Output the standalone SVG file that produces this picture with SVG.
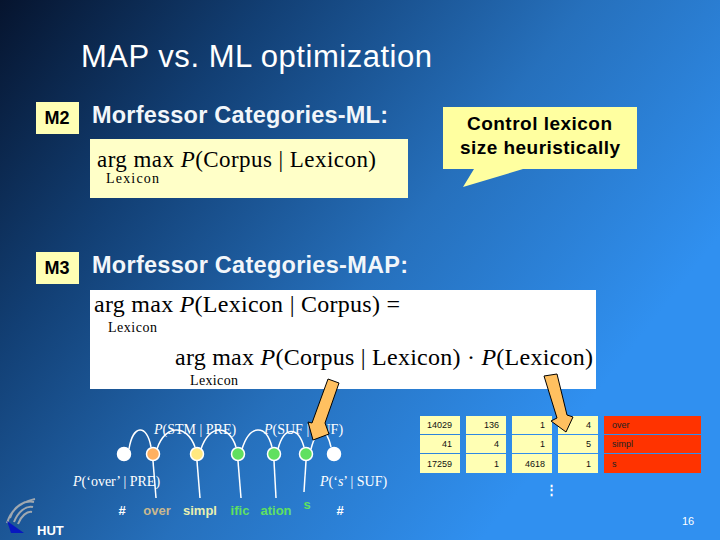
<svg xmlns="http://www.w3.org/2000/svg" width="720" height="540" viewBox="0 0 720 540">
<style>
.s{font-family:"Liberation Sans",Arial,sans-serif}
.f{font-family:"Liberation Serif","Times New Roman",serif}
.h{font-family:"Liberation Sans",Arial,sans-serif;font-weight:bold;font-size:23.5px;fill:#f2f6fa}
.tag{font-family:"Liberation Sans",Arial,sans-serif;font-weight:bold;font-size:18px;fill:#000;text-anchor:middle}
.cy{fill:#ffffb4}
.c{fill:#ffffb4}
.n{font-family:"Liberation Sans",Arial,sans-serif;font-size:9px;fill:#111;text-anchor:end}
.r{fill:#ff3300}
.rt{font-family:"Liberation Sans",Arial,sans-serif;font-size:9px;fill:#222}
.p{font-family:"Liberation Serif","Times New Roman",serif;font-size:14px;fill:#fff}
.m{font-family:"Liberation Sans",Arial,sans-serif;font-weight:bold;font-size:13px;text-anchor:middle}
.arc{fill:none;stroke:#fff;stroke-width:1.5}
.dot{stroke:#fff;stroke-width:1.5}
.arrow{fill:#ffc060;stroke:#000;stroke-width:1}
</style>
<defs>
<linearGradient id="bg" gradientUnits="userSpaceOnUse" x1="0" y1="0" x2="560" y2="440">
<stop offset="0" stop-color="#06142e"/>
<stop offset="0.3" stop-color="#123f74"/>
<stop offset="0.65" stop-color="#2670bc"/>
<stop offset="1" stop-color="#3090f0"/>
</linearGradient>
</defs>
<rect width="720" height="540" fill="url(#bg)"/>
<text class="s" x="81" y="67" font-size="31" fill="#fff" textLength="351">MAP vs. ML optimization</text>

<g id="m2">
<rect x="36" y="102" width="43" height="32" class="cy"/>
<text class="tag" x="57" y="124">M2</text>
<text class="h" x="92" y="123" textLength="296">Morfessor Categories-ML:</text>
</g>
<g id="ml-box">
<rect x="90" y="139" width="318" height="59" fill="#ffffc8"/>
<text class="f" x="97" y="167" font-size="23" fill="#000" textLength="279"><tspan>arg max </tspan><tspan font-style="italic">P</tspan><tspan>(Corpus | Lexicon)</tspan></text>
<text class="f" x="106" y="183" font-size="14" fill="#000" textLength="53">Lexicon</text>
</g>
<g id="callout">
<path d="M443 107H637V169H523L463 187L474 169H443Z" fill="#ffffa0"/>
<text class="s" x="467" y="130" font-size="19" font-weight="bold" fill="#000" textLength="145">Control lexicon</text>
<text class="s" x="460" y="154" font-size="19" font-weight="bold" fill="#000" textLength="160">size heuristically</text>
</g>
<g id="m3">
<rect x="36" y="252" width="43" height="32" class="cy"/>
<text class="tag" x="57" y="274">M3</text>
<text class="h" x="92" y="273" textLength="316">Morfessor Categories-MAP:</text>
</g>
<g id="map-box">
<rect x="90" y="290" width="506" height="99" fill="#fff"/>
<text class="f" x="94" y="312" font-size="24" fill="#000" textLength="306"><tspan>arg max </tspan><tspan font-style="italic">P</tspan><tspan>(Lexicon | Corpus) =</tspan></text>
<text class="f" x="108" y="332" font-size="14" fill="#000" textLength="49">Lexicon</text>
<text class="f" x="175" y="365" font-size="24" fill="#000" textLength="418"><tspan>arg max </tspan><tspan font-style="italic">P</tspan><tspan>(Corpus | Lexicon) · </tspan><tspan font-style="italic">P</tspan><tspan>(Lexicon)</tspan></text>
<text class="f" x="190" y="385" font-size="14" fill="#000" textLength="48">Lexicon</text>
</g>

<g id="hmm-labels">
<text class="p" x="154" y="434"><tspan font-style="italic">P</tspan>(STM | PRE)</text>
<text class="p" x="264" y="434"><tspan font-style="italic">P</tspan>(SUF | SUF)</text>
<text class="p" x="73" y="486"><tspan font-style="italic">P</tspan>(‘over’ | PRE)</text>
<text class="p" x="320" y="486"><tspan font-style="italic">P</tspan>(‘<tspan font-style="italic">s</tspan>’ | SUF)</text>
</g>
<g id="connectors">
<path class="arc" d="M129 449C133 424 147 424 151 447"/>
<path class="arc" d="M157 449C165 424 187 424 195 447"/>
<path class="arc" d="M201 449C209 424 229 424 236 447"/>
<path class="arc" d="M242 449C250 424 266 424 272 447"/>
<path class="arc" d="M278 449C284 426 298 426 304 447"/>
<path class="arc" d="M311 449C317 426 326 426 331 447"/>
<path class="arc" d="M153 461L156 498"/>
<path class="arc" d="M197 461L200 498"/>
<path class="arc" d="M238 461L241 498"/>
<path class="arc" d="M274 461L276 498"/>
<path class="arc" d="M306 461L304 492"/>
</g>
<g id="node-start"><circle class="dot" cx="124" cy="454" r="6.5" fill="#fff"/></g>
<g id="node-over"><circle class="dot" cx="153" cy="454" r="6.5" fill="#ffb060"/></g>
<g id="node-simpl"><circle class="dot" cx="197" cy="454" r="6.5" fill="#ffe880"/></g>
<g id="node-ific"><circle class="dot" cx="238" cy="454" r="6.5" fill="#60e060"/></g>
<g id="node-ation"><circle class="dot" cx="274" cy="454" r="6.5" fill="#60e060"/></g>
<g id="node-s"><circle class="dot" cx="306" cy="454" r="6.5" fill="#60e060"/></g>
<g id="node-end"><circle class="dot" cx="334" cy="454" r="6.5" fill="#fff"/></g>
<g id="morphs">
<text class="m" x="122" y="515" fill="#fff">#</text>
<text class="m" x="157" y="515" fill="#c8b890">over</text>
<text class="m" x="200" y="515" fill="#e8f0b0">simpl</text>
<text class="m" x="240" y="515" fill="#60e060">ific</text>
<text class="m" x="276" y="515" fill="#60e060">ation</text>
<text class="m" x="307" y="509" fill="#60e060">s</text>
<text class="m" x="340" y="515" fill="#fff">#</text>
</g>
<g id="arrow-left"><path class="arrow" d="M328 379L339 383L325 423L329 434L313 440L308 422L312 423Z"/></g>

<g id="table">
<rect class="c" x="420" y="416" width="40" height="18"/><rect class="c" x="466" y="416" width="40" height="18"/><rect class="c" x="512" y="416" width="40" height="18"/><rect class="c" x="558" y="416" width="40" height="18"/><rect class="r" x="604" y="416" width="97" height="18"/>
<rect class="c" x="420" y="435" width="40" height="18"/><rect class="c" x="466" y="435" width="40" height="18"/><rect class="c" x="512" y="435" width="40" height="18"/><rect class="c" x="558" y="435" width="40" height="18"/><rect class="r" x="604" y="435" width="97" height="18"/>
<rect class="c" x="420" y="454" width="40" height="19"/><rect class="c" x="466" y="454" width="40" height="19"/><rect class="c" x="512" y="454" width="40" height="19"/><rect class="c" x="558" y="454" width="40" height="19"/><rect class="r" x="604" y="454" width="97" height="19"/>
<text class="n" x="452" y="428">14029</text><text class="n" x="499" y="428">136</text><text class="n" x="545" y="428">1</text><text class="n" x="591" y="428">4</text><text class="rt" x="612" y="428">over</text>
<text class="n" x="452" y="447">41</text><text class="n" x="499" y="447">4</text><text class="n" x="545" y="447">1</text><text class="n" x="591" y="447">5</text><text class="rt" x="612" y="447">simpl</text>
<text class="n" x="452" y="467">17259</text><text class="n" x="499" y="467">1</text><text class="n" x="545" y="467">4618</text><text class="n" x="591" y="467">1</text><text class="rt" x="612" y="467">s</text>
<text class="s" x="551" y="494" font-size="13" font-weight="bold" fill="#fff" text-anchor="middle">⋮</text>
</g>
<g id="arrow-right"><path class="arrow" d="M544 376L557 374L567 415L573 417L566 432L551 421L557 418Z"/></g>

<g id="logo">
<path d="M7 523C11 510 21 502 35 499M10 518C14 506 24 500 34 502M14 522C18 512 26 505 33 507M18 524C21 516 27 511 32 512" fill="none" stroke="#a0a8b0" stroke-width="2"/>
<path d="M7 521L24 533H11Z" fill="#0818c0"/>
<text class="s" x="37" y="535" font-size="13" font-weight="bold" fill="#fff">HUT</text>
</g>
<text class="s" x="688" y="525" font-size="11" fill="#fff" text-anchor="middle">16</text>
</svg>
